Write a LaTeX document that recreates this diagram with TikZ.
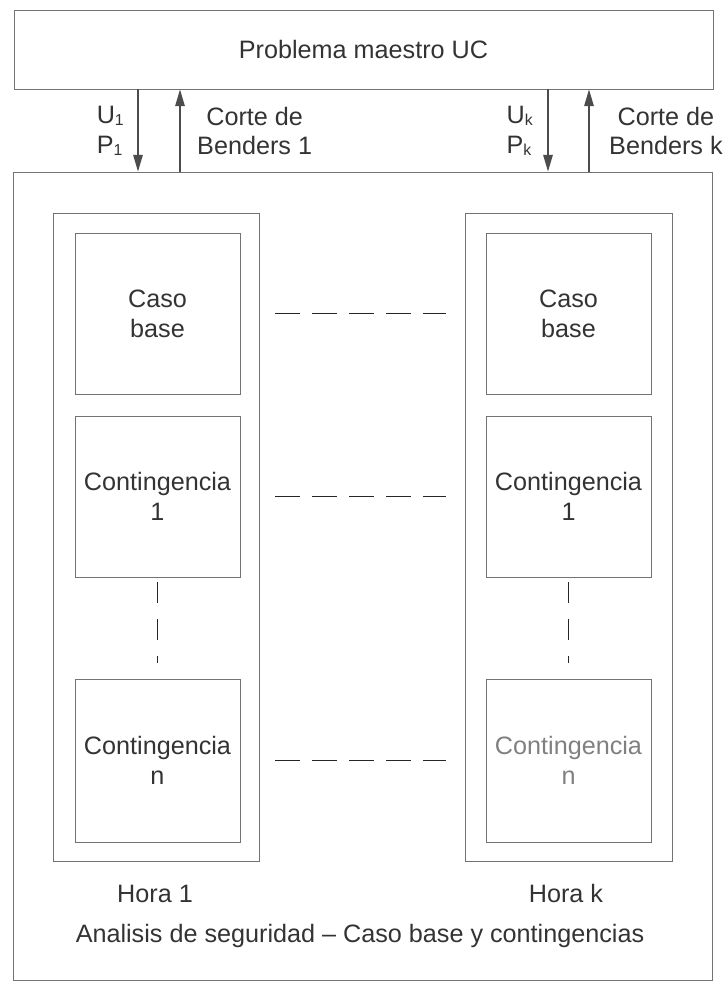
\documentclass[tikz,border=0pt]{standalone}
\usepackage{fontspec}
\setmainfont{Liberation Sans}
\usetikzlibrary{arrows.meta,positioning}

\newcommand{\indice}[1]{\raisebox{-0.1em}{\fontsize{13.5}{13.5}\selectfont #1}}

\tikzset{
  caja/.style={draw=black!55, line width=0.6pt, rectangle, inner sep=0pt, align=center, text=black!80},
  flecha/.style={black!70, line width=1.4pt, -{Triangle[length=5mm,width=2.8mm]}},
  enlace/.style={black!85, line width=1.6pt, dash pattern=on 0.75cm off 0.36cm, shorten <=0.45cm, shorten >=0.57cm},
  puntos/.style={black!85, line width=1.6pt, dash pattern=on 0.63cm off 0.48cm, shorten <=0.15cm, shorten >=0.48cm},
  etiqueta/.style={text=black!80, align=center, inner sep=0pt},
}

\begin{document}
\begin{tikzpicture}[x=0.03cm, y=-0.03cm, every node/.style={font=\fontsize{21.5}{25.5}\selectfont}]
  \useasboundingbox (0,0) rectangle (727,982);

  % Problema maestro y subproblema
  \node[caja, minimum width=20.97cm, minimum height=2.37cm] (maestro) at (363.5,49.5) {Problema maestro UC};
  \node[caja, minimum width=20.97cm, minimum height=24.24cm] (seguridad) at (362.5,576) {};

  % Horas
  \node[caja, minimum width=6.2cm, minimum height=19.44cm] (hora-1) at (156.5,537) {};
  \node[caja, minimum width=6.2cm, minimum height=19.44cm] (hora-k) at (569,537) {};

  % Casos de cada hora
  \foreach \h/\x/\c in {1/157.5/black!80, k/568.5/black!50} {
    \node[caja, minimum width=4.95cm, minimum height=4.83cm] (base-\h) at (\x,313.5) {Caso\\base};
    \node[caja, minimum width=4.95cm, minimum height=4.83cm] (cont-\h) at (\x,496.5) {Contingencia\\1};
    \node[caja, text=\c, minimum width=4.95cm, minimum height=4.89cm] (contn-\h) at (\x,760.5) {Contingencia\\n};
    \draw[puntos] (cont-\h.south) -- (contn-\h.north);
  }

  % Enlaces entre horas
  \foreach \caso in {base, cont, contn}
    \draw[enlace] (hora-1.east |- \caso-1.center) -- (hora-k.west |- \caso-k.center);

  % Flechas
  \foreach \h/\xb/\xs in {1/138/180, k/548/589} {
    \coordinate (baja-\h) at (\xb,0);
    \coordinate (sube-\h) at (\xs,0);
    \draw[flecha] (baja-\h |- maestro.south) -- (baja-\h |- seguridad.north);
    \draw[flecha] (sube-\h |- seguridad.north) -- (sube-\h |- maestro.south);
  }

  % Etiquetas
  \node[etiqueta, anchor=east, align=left] (up-1) at (124,131) {U\indice{1}\\P\indice{1}};
  \node[etiqueta, anchor=west] (corte-1) at (197,131) {Corte de\\Benders 1};
  \node[etiqueta, anchor=east, align=left] (up-k) at (533,131) {U\indice{k}\\P\indice{k}};
  \node[etiqueta, anchor=west] (corte-k) at (609,131) {Corte de\\Benders k};

  \node[etiqueta, anchor=base] (txt-1) at (155,902) {Hora 1};
  \node[etiqueta, anchor=base] (txt-k) at (566,902) {Hora k};
  \node[etiqueta, anchor=base] (titulo) at (360,942) {Analisis de seguridad -- Caso base y contingencias};
\end{tikzpicture}
\end{document}
